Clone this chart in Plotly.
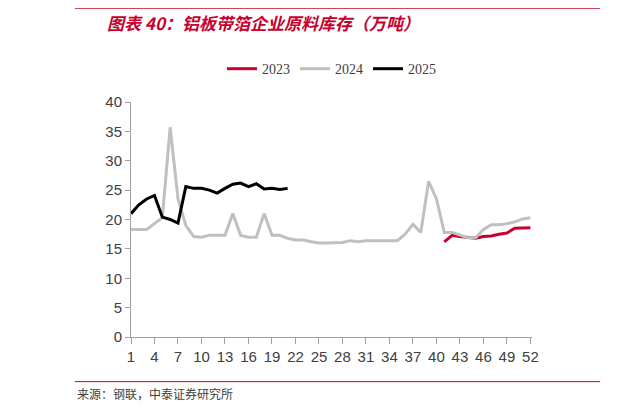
import plotly.graph_objects as go

weeks = list(range(1, 53))
s2024 = [18.3, 18.3, 18.3, 19.3, 20.3, 35.7, 23.5, 19.0, 17.1, 17.0, 17.3, 17.3, 17.3, 21.0, 17.3, 17.0,
         17.0, 21.0, 17.3, 17.3, 16.8, 16.5, 16.5, 16.2, 16.0, 16.0, 16.0, 16.1, 16.4, 16.2, 16.4, 16.4,
         16.4, 16.3, 16.4, 17.5, 19.2, 17.8, 26.5, 23.5, 17.8, 17.8, 17.3, 16.9, 16.9, 18.3, 19.1, 19.1,
         19.3, 19.6, 20.1, 20.3]
w2023 = list(range(41, 53))
s2023 = [16.2, 17.3, 17.1, 16.9, 16.8, 17.1, 17.2, 17.5, 17.7, 18.5, 18.6, 18.6]
w2025 = list(range(1, 22))
s2025 = [21.0, 22.5, 23.5, 24.1, 20.4, 20.0, 19.4, 25.6, 25.3, 25.3, 25.0, 24.5, 25.3, 26.0, 26.2, 25.6,
         26.1, 25.2, 25.3, 25.1, 25.3]
tickvals = list(range(1, 53, 3))

fig = go.Figure()
fig.add_trace(go.Scatter(x=w2023, y=s2023, name='2023', mode='lines', line=dict(color='#c8002d', width=3)))
fig.add_trace(go.Scatter(x=weeks, y=s2024, name='2024', mode='lines', line=dict(color='#c0c0c0', width=3)))
fig.add_trace(go.Scatter(x=w2025, y=s2025, name='2025', mode='lines', line=dict(color='#000000', width=3)))

fig.update_layout(
    width=630, height=411, plot_bgcolor='white', paper_bgcolor='white',
    margin=dict(l=123, r=106, t=94, b=82),
    font=dict(family='Liberation Sans, Arial', size=15, color='#404040'),
    legend=dict(orientation='h', x=0.5, xanchor='center', y=1.14, yanchor='middle',
                font=dict(family='Liberation Serif', size=14, color='#404040')),
    xaxis=dict(range=[1, 52.2], tickvals=tickvals, showgrid=False, showline=True, linecolor='#a0a0a0',
               ticks='outside', ticklen=6, tickcolor='#a0a0a0', zeroline=False),
    yaxis=dict(range=[0, 40], dtick=5, showgrid=False, showline=True, linecolor='#a0a0a0',
               ticks='outside', ticklen=5, tickcolor='#a0a0a0', zeroline=False),
    shapes=[
        dict(type='line', xref='paper', yref='paper', x0=-0.14, x1=1.17, y0=1.40, y1=1.40,
             line=dict(color='#c8002d', width=1.5)),
        dict(type='line', xref='paper', yref='paper', x0=-0.14, x1=1.17, y0=-0.19, y1=-0.19,
             line=dict(color='#c8002d', width=1)),
    ],
    annotations=[
        dict(text='<b><i>图表 40：铝板带箔企业原料库存（万吨）</i></b>', xref='paper', yref='paper',
             x=-0.064, y=1.34, xanchor='left', yanchor='middle', showarrow=False,
             font=dict(family='Noto Sans CJK SC', size=17, color='#c8002d')),
        dict(text='来源：钢联，中泰证券研究所', xref='paper', yref='paper', x=-0.14, y=-0.24,
             xanchor='left', yanchor='middle', showarrow=False,
             font=dict(family='Noto Sans CJK SC', size=12, color='#404040')),
    ],
)
fig.write_html("out.html")
